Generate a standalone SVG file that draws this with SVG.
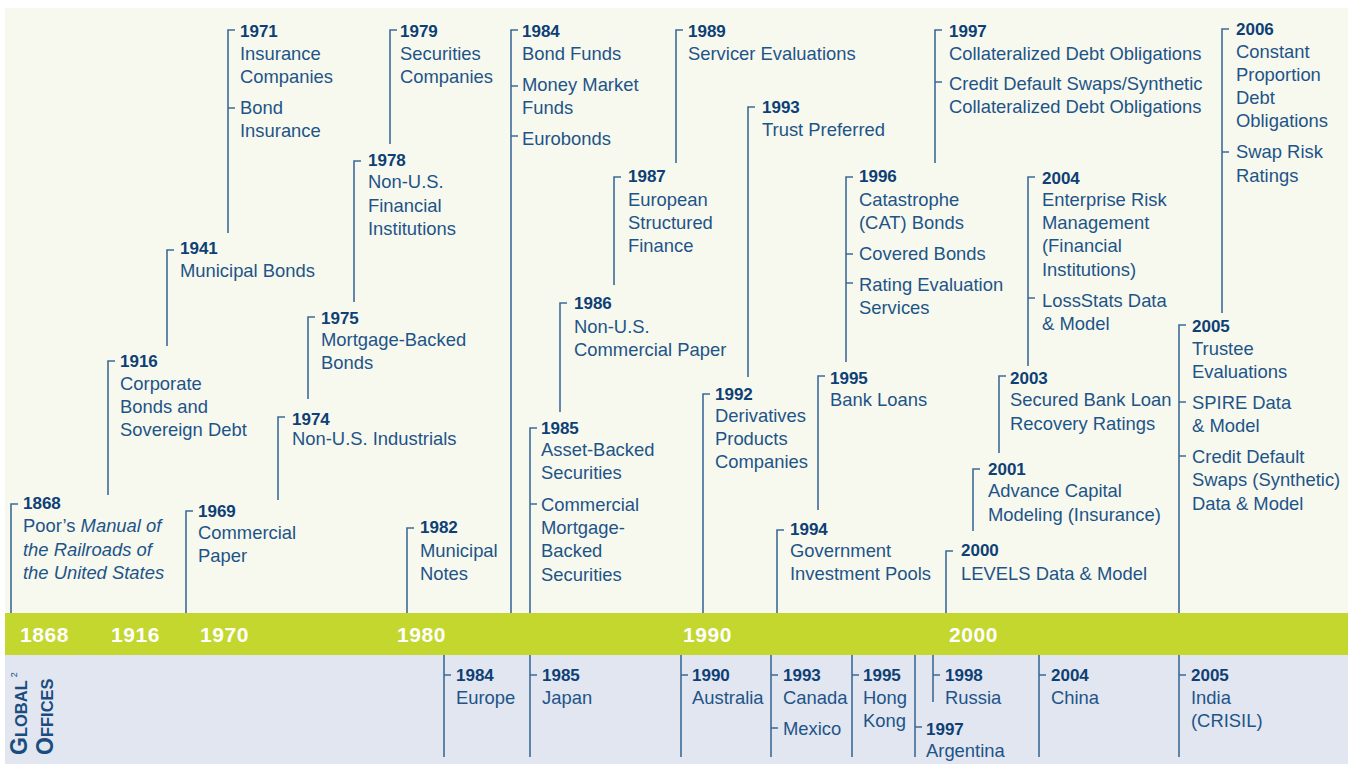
<svg xmlns="http://www.w3.org/2000/svg" width="1348" height="764" viewBox="0 0 1348 764">
  <style>
    .yr { font-family: "Liberation Sans", Arial, sans-serif; font-weight: bold; font-size: 17px; fill: #0e3f75; }
    .tx { font-family: "Liberation Sans", Arial, sans-serif; font-size: 18.4px; fill: #1e5488; }
    .it { font-style: italic; }
    .band { font-family: "Liberation Sans", Arial, sans-serif; font-weight: bold; font-size: 21px; fill: #ffffff; letter-spacing: 0.6px; }
    .side { font-family: "Liberation Sans", Arial, sans-serif; font-weight: bold; fill: #1a4c80; }
    .ln { stroke: #3d6b98; stroke-width: 1.6; fill: none; }
  </style>

  <!-- panels -->
  <rect x="0" y="0" width="1348" height="764" fill="#ffffff"/>
  <rect x="5" y="8" width="1343" height="605" fill="#f7f9ee"/>
  <rect x="5" y="613" width="1343" height="42" fill="#c3d72f"/>
  <rect x="5" y="655" width="1343" height="109" fill="#e1e6f0"/>

  <!-- time axis labels -->
  <g id="axis">
    <text class="band" x="20" y="642">1868</text>
    <text class="band" x="111" y="642">1916</text>
    <text class="band" x="200" y="642">1970</text>
    <text class="band" x="397" y="642">1980</text>
    <text class="band" x="683" y="642">1990</text>
    <text class="band" x="949" y="642">2000</text>
  </g>

  <!-- leader lines for ratings milestones and office openings -->
  <g id="connectors" class="ln">
    <path d="M18,504 H11 V613"/>
    <path d="M115,361 H108 V495"/>
    <path d="M174,250 H167 V346"/>
    <path d="M193,511 H186 V613"/>
    <path d="M235,30 H228 V233 M228,108 h7"/>
    <path d="M285,417 H278 V500"/>
    <path d="M315,317 H308 V399"/>
    <path d="M361,161 H354 V302"/>
    <path d="M397,30 H390 V144"/>
    <path d="M414,528 H407 V613"/>
    <path d="M518,30 H511 V613 M511,86 h7 M511,136 h7"/>
    <path d="M537,428 H530 V613 M530,504 h7"/>
    <path d="M567,303 H560 V412"/>
    <path d="M621,177 H614 V285"/>
    <path d="M683,30 H676 V163"/>
    <path d="M710,394 H703 V613"/>
    <path d="M755,107 H748 V377"/>
    <path d="M784,530 H777 V613"/>
    <path d="M825,376 H818 V510"/>
    <path d="M853,177 H846 V362 M846,254 h7 M846,283 h7"/>
    <path d="M942,30 H935 V163 M935,82 h7"/>
    <path d="M953,551 H946 V613"/>
    <path d="M980,469 H973 V531"/>
    <path d="M1006,376 H999 V453"/>
    <path d="M1035,177 H1028 V366 M1028,298 h7"/>
    <path d="M1186,325 H1179 V613 M1179,402 h7 M1179,456 h7"/>
    <path d="M1229,29 H1222 V313 M1222,152 h7"/>

    <path d="M444,655 V757 M444,675 h7"/>
    <path d="M530,655 V757 M530,675 h7"/>
    <path d="M681,655 V757 M681,675 h7"/>
    <path d="M771,655 V757 M771,675 h7 M771,728 h7"/>
    <path d="M852,655 V757 M852,675 h7"/>
    <path d="M915,655 V757 M915,727 h7"/>
    <path d="M933,655 V702 M933,675 h7"/>
    <path d="M1039,655 V757 M1039,675 h7"/>
    <path d="M1179,655 V757 M1179,675 h7"/>
  </g>

  <!-- ratings milestones -->
  <g id="m1868">
    <text class="yr" x="23" y="509">1868</text>
    <text class="tx" x="23" y="532">Poor’s <tspan class="it">Manual of</tspan></text>
    <text class="tx it" x="23" y="556">the Railroads of</text>
    <text class="tx it" x="23" y="579">the United States</text>
  </g>
  <g id="m1916">
    <text class="yr" x="120" y="367">1916</text>
    <text class="tx" x="120" y="390">Corporate</text>
    <text class="tx" x="120" y="413">Bonds and</text>
    <text class="tx" x="120" y="436">Sovereign Debt</text>
  </g>
  <g id="m1941">
    <text class="yr" x="180" y="254">1941</text>
    <text class="tx" x="180" y="277">Municipal Bonds</text>
  </g>
  <g id="m1969">
    <text class="yr" x="198" y="517">1969</text>
    <text class="tx" x="198" y="539">Commercial</text>
    <text class="tx" x="198" y="562">Paper</text>
  </g>
  <g id="m1971">
    <text class="yr" x="240" y="37">1971</text>
    <text class="tx" x="240" y="60">Insurance</text>
    <text class="tx" x="240" y="83">Companies</text>
    <text class="tx" x="240" y="114">Bond</text>
    <text class="tx" x="240" y="137">Insurance</text>
  </g>
  <g id="m1974">
    <text class="yr" x="292" y="425">1974</text>
    <text class="tx" x="292" y="445">Non-U.S. Industrials</text>
  </g>
  <g id="m1975">
    <text class="yr" x="321" y="324">1975</text>
    <text class="tx" x="321" y="346">Mortgage-Backed</text>
    <text class="tx" x="321" y="369">Bonds</text>
  </g>
  <g id="m1978">
    <text class="yr" x="368" y="166">1978</text>
    <text class="tx" x="368" y="188">Non-U.S.</text>
    <text class="tx" x="368" y="212">Financial</text>
    <text class="tx" x="368" y="235">Institutions</text>
  </g>
  <g id="m1979">
    <text class="yr" x="400" y="37">1979</text>
    <text class="tx" x="400" y="60">Securities</text>
    <text class="tx" x="400" y="83">Companies</text>
  </g>
  <g id="m1982">
    <text class="yr" x="420" y="533">1982</text>
    <text class="tx" x="420" y="557">Municipal</text>
    <text class="tx" x="420" y="580">Notes</text>
  </g>
  <g id="m1984">
    <text class="yr" x="522" y="37">1984</text>
    <text class="tx" x="522" y="60">Bond Funds</text>
    <text class="tx" x="522" y="91">Money Market</text>
    <text class="tx" x="522" y="114">Funds</text>
    <text class="tx" x="522" y="145">Eurobonds</text>
  </g>
  <g id="m1985">
    <text class="yr" x="541" y="434">1985</text>
    <text class="tx" x="541" y="456">Asset-Backed</text>
    <text class="tx" x="541" y="479">Securities</text>
    <text class="tx" x="541" y="511">Commercial</text>
    <text class="tx" x="541" y="534">Mortgage-</text>
    <text class="tx" x="541" y="557">Backed</text>
    <text class="tx" x="541" y="581">Securities</text>
  </g>
  <g id="m1986">
    <text class="yr" x="574" y="309">1986</text>
    <text class="tx" x="574" y="333">Non-U.S.</text>
    <text class="tx" x="574" y="356">Commercial Paper</text>
  </g>
  <g id="m1987">
    <text class="yr" x="628" y="182">1987</text>
    <text class="tx" x="628" y="206">European</text>
    <text class="tx" x="628" y="229">Structured</text>
    <text class="tx" x="628" y="252">Finance</text>
  </g>
  <g id="m1989">
    <text class="yr" x="688" y="37">1989</text>
    <text class="tx" x="688" y="60">Servicer Evaluations</text>
  </g>
  <g id="m1992">
    <text class="yr" x="715" y="400">1992</text>
    <text class="tx" x="715" y="422">Derivatives</text>
    <text class="tx" x="715" y="445">Products</text>
    <text class="tx" x="715" y="468">Companies</text>
  </g>
  <g id="m1993">
    <text class="yr" x="762" y="113">1993</text>
    <text class="tx" x="762" y="136">Trust Preferred</text>
  </g>
  <g id="m1994">
    <text class="yr" x="790" y="535">1994</text>
    <text class="tx" x="790" y="557">Government</text>
    <text class="tx" x="790" y="580">Investment Pools</text>
  </g>
  <g id="m1995">
    <text class="yr" x="830" y="384">1995</text>
    <text class="tx" x="830" y="406">Bank Loans</text>
  </g>
  <g id="m1996">
    <text class="yr" x="859" y="182">1996</text>
    <text class="tx" x="859" y="206">Catastrophe</text>
    <text class="tx" x="859" y="229">(CAT) Bonds</text>
    <text class="tx" x="859" y="260">Covered Bonds</text>
    <text class="tx" x="859" y="291">Rating Evaluation</text>
    <text class="tx" x="859" y="314">Services</text>
  </g>
  <g id="m1997">
    <text class="yr" x="949" y="37">1997</text>
    <text class="tx" x="949" y="60">Collateralized Debt Obligations</text>
    <text class="tx" x="949" y="90">Credit Default Swaps/Synthetic</text>
    <text class="tx" x="949" y="113">Collateralized Debt Obligations</text>
  </g>
  <g id="m2000">
    <text class="yr" x="961" y="556">2000</text>
    <text class="tx" x="961" y="580">LEVELS Data &amp; Model</text>
  </g>
  <g id="m2001">
    <text class="yr" x="988" y="475">2001</text>
    <text class="tx" x="988" y="497">Advance Capital</text>
    <text class="tx" x="988" y="521">Modeling (Insurance)</text>
  </g>
  <g id="m2003">
    <text class="yr" x="1010" y="384">2003</text>
    <text class="tx" x="1010" y="406">Secured Bank Loan</text>
    <text class="tx" x="1010" y="430">Recovery Ratings</text>
  </g>
  <g id="m2004">
    <text class="yr" x="1042" y="184">2004</text>
    <text class="tx" x="1042" y="206">Enterprise Risk</text>
    <text class="tx" x="1042" y="229">Management</text>
    <text class="tx" x="1042" y="252">(Financial</text>
    <text class="tx" x="1042" y="276">Institutions)</text>
    <text class="tx" x="1042" y="307">LossStats Data</text>
    <text class="tx" x="1042" y="330">&amp; Model</text>
  </g>
  <g id="m2005">
    <text class="yr" x="1192" y="332">2005</text>
    <text class="tx" x="1192" y="355">Trustee</text>
    <text class="tx" x="1192" y="378">Evaluations</text>
    <text class="tx" x="1192" y="409">SPIRE Data</text>
    <text class="tx" x="1192" y="432">&amp; Model</text>
    <text class="tx" x="1192" y="463">Credit Default</text>
    <text class="tx" x="1192" y="486">Swaps (Synthetic)</text>
    <text class="tx" x="1192" y="510">Data &amp; Model</text>
  </g>
  <g id="m2006">
    <text class="yr" x="1236" y="35">2006</text>
    <text class="tx" x="1236" y="58">Constant</text>
    <text class="tx" x="1236" y="81">Proportion</text>
    <text class="tx" x="1236" y="104">Debt</text>
    <text class="tx" x="1236" y="127">Obligations</text>
    <text class="tx" x="1236" y="158">Swap Risk</text>
    <text class="tx" x="1236" y="182">Ratings</text>
  </g>

  <!-- global offices -->
  <g id="offices-title" class="side">
    <text transform="translate(27,755) rotate(-90)"><tspan font-size="23">G</tspan><tspan font-size="16.5">LOBAL</tspan><tspan font-size="9" font-weight="normal" dx="3" dy="-10">2</tspan></text>
    <text transform="translate(53,755) rotate(-90)"><tspan font-size="23">O</tspan><tspan font-size="16.5">FFICES</tspan></text>
  </g>
  <g id="o1984">
    <text class="yr" x="456" y="681">1984</text>
    <text class="tx" x="456" y="704">Europe</text>
  </g>
  <g id="o1985">
    <text class="yr" x="542" y="681">1985</text>
    <text class="tx" x="542" y="704">Japan</text>
  </g>
  <g id="o1990">
    <text class="yr" x="692" y="681">1990</text>
    <text class="tx" x="692" y="704">Australia</text>
  </g>
  <g id="o1993">
    <text class="yr" x="783" y="681">1993</text>
    <text class="tx" x="783" y="704">Canada</text>
    <text class="tx" x="783" y="735">Mexico</text>
  </g>
  <g id="o1995">
    <text class="yr" x="863" y="681">1995</text>
    <text class="tx" x="863" y="704">Hong</text>
    <text class="tx" x="863" y="727">Kong</text>
  </g>
  <g id="o1997">
    <text class="yr" x="926" y="735">1997</text>
    <text class="tx" x="926" y="757">Argentina</text>
  </g>
  <g id="o1998">
    <text class="yr" x="945" y="681">1998</text>
    <text class="tx" x="945" y="704">Russia</text>
  </g>
  <g id="o2004">
    <text class="yr" x="1051" y="681">2004</text>
    <text class="tx" x="1051" y="704">China</text>
  </g>
  <g id="o2005">
    <text class="yr" x="1191" y="681">2005</text>
    <text class="tx" x="1191" y="704">India</text>
    <text class="tx" x="1191" y="727">(CRISIL)</text>
  </g>
</svg>
